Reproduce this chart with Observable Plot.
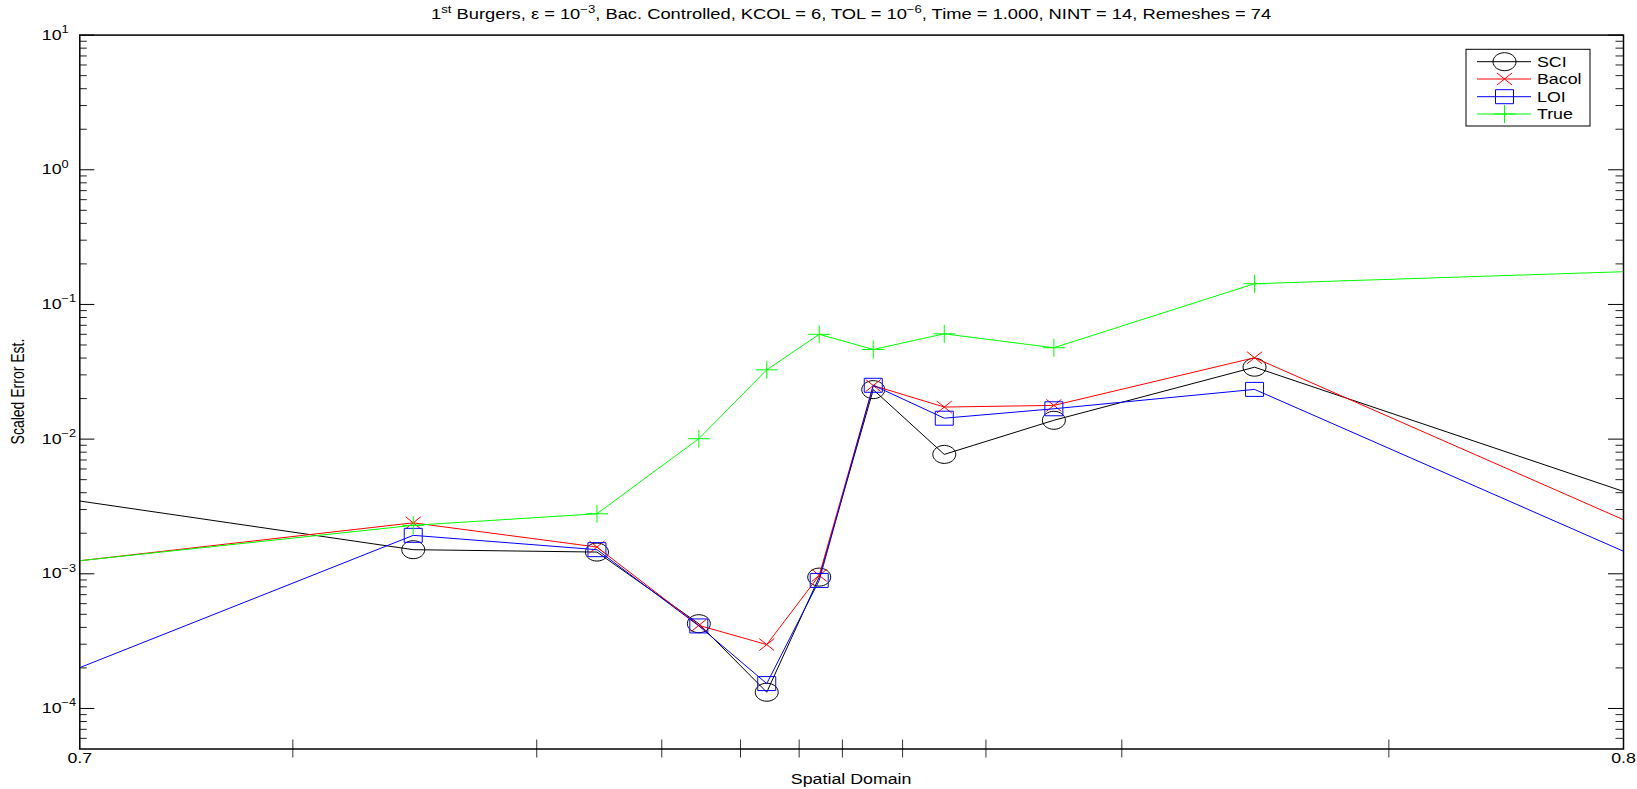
<!DOCTYPE html>
<html><head><meta charset="utf-8">
<script src="https://cdn.jsdelivr.net/npm/d3@7"></script>
<script src="https://cdn.jsdelivr.net/npm/@observablehq/plot@0.6"></script>
<style>
html,body{margin:0;padding:0;background:#fff;overflow:hidden;}
svg{display:block;}
</style></head><body>
<div id="chart"></div>
<script>
// ---------- data ----------
const meshTicks = [0.7138, 0.7296, 0.7377, 0.7428, 0.7466, 0.7494, 0.7533, 0.7587, 0.7675, 0.7848];
const markerX   = [0.7216, 0.7335, 0.7401, 0.7445, 0.7479, 0.7514, 0.7560, 0.7631, 0.7761];
const edgeX     = [0.7, 0.8];

const seriesNames  = ["SCI", "Bacol", "LOI", "True"];
const seriesColors = ["#000000", "#ff0000", "#0000ff", "#00ff00"];

const sciValues   = [1.51e-3, 1.45e-3, 4.26e-4, 1.32e-4, 9.45e-4, 2.33e-2, 7.7e-3, 1.38e-2, 3.42e-2];
const sciEdges    = [3.47e-3, 4.09e-3];
const bacolValues = [2.39e-3, 1.58e-3, 4.14e-4, 2.98e-4, 9.73e-4, 2.50e-2, 1.73e-2, 1.78e-2, 4.02e-2];
const bacolEdges  = [1.25e-3, 2.52e-3];
const loiValues   = [1.93e-3, 1.51e-3, 4.10e-4, 1.53e-4, 8.93e-4, 2.51e-2, 1.43e-2, 1.68e-2, 2.34e-2];
const loiEdges    = [2.01e-4, 1.47e-3];
const trueValues  = [2.29e-3, 2.79e-3, 1.007e-2, 3.27e-2, 6.0e-2, 4.63e-2, 6.05e-2, 4.77e-2, 0.1425];
const trueEdges   = [1.25e-3, 0.175];

const yTicks = [1e-4, 1e-3, 1e-2, 1e-1, 1, 10];
const yTickBase = "10";
const yTickExponents = ["\u22124", "\u22123", "\u22122", "\u22121", "0", "1"];
const yMinorTicks = [6e-5, 7e-5, 8e-5, 9e-5,
  2e-4, 3e-4, 4e-4, 5e-4, 6e-4, 7e-4, 8e-4, 9e-4,
  2e-3, 3e-3, 4e-3, 5e-3, 6e-3, 7e-3, 8e-3, 9e-3,
  2e-2, 3e-2, 4e-2, 5e-2, 6e-2, 7e-2, 8e-2, 9e-2,
  0.2, 0.3, 0.4, 0.5, 0.6, 0.7, 0.8, 0.9,
  2, 3, 4, 5, 6, 7, 8, 9];
const xTickValues = [0.7, 0.8];
const xTickLabels = ["0.7", "0.8"];

const titleParts = [
  ["1", false], ["st", true], [" Burgers, \u03b5 = 10", false], ["\u22123", true],
  [", Bac. Controlled, KCOL = 6, TOL = 10", false], ["\u22126", true],
  [", Time = 1.000, NINT = 14, Remeshes = 74", false]
];
const xLabel = "Spatial Domain";
const yLabel = "Scaled Error Est.";

// ---------- layout ----------
const W = 1637, H = 789;
const mL = 79.3, mR = 14, mT = 34.6, mB = 40.5;
const pw = W - mL - mR, ph = H - mT - mB;
const SX = 1.27; // horizontal stretch of the original rendering
const FONT = "'Liberation Sans', Arial, Helvetica, sans-serif";

// custom marker symbols (stretched like the original)
const symEllipse = {draw(c){const a=11.5,b=9,k=0.5523;
  c.moveTo(a,0); c.bezierCurveTo(a,k*b,k*a,b,0,b); c.bezierCurveTo(-k*a,b,-a,k*b,-a,0);
  c.bezierCurveTo(-a,-k*b,-k*a,-b,0,-b); c.bezierCurveTo(k*a,-b,a,-k*b,a,0); c.closePath();}};
const symX = {draw(c){c.moveTo(-7.5,-6); c.lineTo(7.5,6); c.moveTo(-7.5,6); c.lineTo(7.5,-6);}};
const symSquare = {draw(c){c.moveTo(-9,-7); c.lineTo(9,-7); c.lineTo(9,7); c.lineTo(-9,7); c.closePath();}};
const symPlus = {draw(c){c.moveTo(-11,0); c.lineTo(11,0); c.moveTo(0,-9); c.lineTo(0,9);}};
const symbols = [symEllipse, symX, symSquare, symPlus];

const allValues = [sciValues, bacolValues, loiValues, trueValues];
const allEdges = [sciEdges, bacolEdges, loiEdges, trueEdges];

function lineRows(vals, edges){
  return [{x: edgeX[0], y: edges[0]}, ...markerX.map((x,i)=>({x, y: vals[i]})), {x: edgeX[1], y: edges[1]}];
}
function markRows(vals){ return markerX.map((x,i)=>({x, y: vals[i]})); }

const seriesMarks = [];
seriesNames.forEach((name, s) => {
  seriesMarks.push(Plot.line(lineRows(allValues[s], allEdges[s]), {x:"x", y:"y", stroke: seriesColors[s], strokeWidth: 1}));
  seriesMarks.push(Plot.dot(markRows(allValues[s]), {x:"x", y:"y", symbol: symbols[s], r: 4, stroke: seriesColors[s], fill: "none", strokeWidth: 1}));
});

const svg = Plot.plot({
  width: W, height: H,
  marginLeft: mL, marginRight: mR, marginTop: mT, marginBottom: mB,
  x: {domain: [0.7, 0.8], axis: null},
  y: {type: "log", domain: [5e-5, 10], axis: null},
  style: {background: "white", fontFamily: FONT, fontSize: "14px", color: "black", overflow: "visible"},
  marks: [
    Plot.tickY(yMinorTicks, {y: d=>d, stroke: "#222", strokeWidth: 1, insetRight: pw - 7.5}),
    Plot.tickY(yMinorTicks, {y: d=>d, stroke: "#222", strokeWidth: 1, insetLeft: pw - 7.5}),
    Plot.tickY(yTicks, {y: d=>d, stroke: "black", strokeWidth: 1, insetRight: pw - 15}),
    Plot.tickY(yTicks, {y: d=>d, stroke: "black", strokeWidth: 1, insetLeft: pw - 15}),
    Plot.tickX(meshTicks, {x: d=>d, stroke: "#333", strokeWidth: 1, insetTop: ph - 9, insetBottom: -9}),
    ...seriesMarks,
    Plot.frame({stroke: "black", strokeWidth: 1.5}),
    Plot.text(yTicks, {y: d=>d, frameAnchor: "left", dx: -38, textAnchor: "start", text: () => yTickBase, fontSize: 14}),
    Plot.text(xTickValues, {x: d=>d, frameAnchor: "bottom", dy: 14, text: (d,i) => xTickLabels[i], fontSize: 14})
  ]
});
document.getElementById("chart").appendChild(svg);

function stretch(el, sx = SX){
  const t = el.getAttribute("transform") || "";
  el.setAttribute("transform", (t + ` scale(${sx},1)`).trim());
}

// Plot's own text marks (only tick labels at this point)
const plotTexts = Array.from(svg.querySelectorAll("text"));
const yLabelEls = plotTexts.filter(el => el.textContent === yTickBase);
const xLabelEls = plotTexts.filter(el => xTickLabels.includes(el.textContent));
const ns = "http://www.w3.org/2000/svg";
yLabelEls.forEach((el, i) => {
  el.textContent = "";
  const b = document.createElementNS(ns, "tspan"); b.textContent = yTickBase; el.appendChild(b);
  const e = document.createElementNS(ns, "tspan"); e.textContent = yTickExponents[i];
  e.setAttribute("dy", "-6.5"); e.setAttribute("font-size", "10"); el.appendChild(e);
  stretch(el);
});
xLabelEls.forEach(el => stretch(el));

const S = d3.select(svg);
const cx = mL + pw / 2;

// title
const t = S.append("text").attr("text-anchor", "middle").attr("font-family", FONT).attr("font-size", 14)
  .attr("fill", "black").attr("transform", `translate(${cx},19) scale(1.31,1)`);
let up = false;
titleParts.forEach(([str, sup]) => {
  const sp = t.append("tspan").text(str);
  if (sup && !up) { sp.attr("dy", -6).attr("font-size", 10); up = true; }
  else if (sup) { sp.attr("font-size", 10); }
  else if (up) { sp.attr("dy", 6); up = false; }
});

// axis labels
S.append("text").attr("text-anchor", "middle").attr("font-family", FONT).attr("font-size", 14)
  .attr("transform", `translate(${cx},784) scale(${SX},1)`).text(xLabel);
S.append("text").attr("text-anchor", "middle").attr("font-family", FONT).attr("font-size", 14)
  .attr("transform", `translate(24,${mT + ph / 2}) scale(${SX},1) rotate(-90)`).text(yLabel);

// legend
const lg = S.append("g");
lg.append("rect").attr("x", 1466).attr("y", 49.3).attr("width", 124).attr("height", 76.7)
  .attr("fill", "white").attr("stroke", "black").attr("stroke-width", 1);
const rowY = [61.7, 79, 96.7, 114];
seriesNames.forEach((name, s) => {
  const y = rowY[s];
  lg.append("line").attr("x1", 1477).attr("x2", 1531).attr("y1", y).attr("y2", y)
    .attr("stroke", seriesColors[s]).attr("stroke-width", 1);
  lg.append("path").attr("d", d3.symbol(symbols[s], 50)()).attr("transform", `translate(1504.5,${y})`)
    .attr("fill", "none").attr("stroke", seriesColors[s]).attr("stroke-width", 1);
  lg.append("text").attr("font-family", FONT).attr("font-size", 14).attr("dy", "0.36em")
    .attr("text-anchor", "start")
    .attr("transform", `translate(1537,${y}) scale(${SX},1)`).text(name);
});
</script>
</body></html>
